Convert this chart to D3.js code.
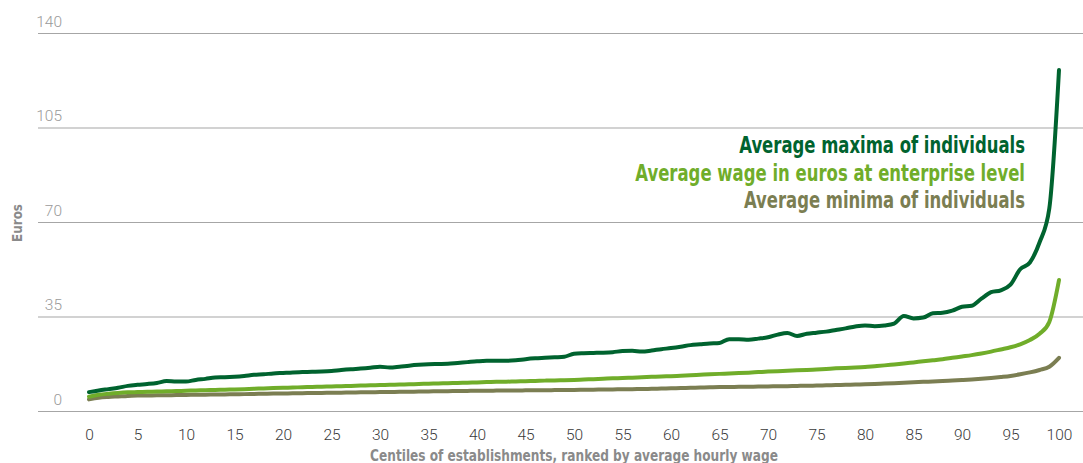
<!DOCTYPE html>
<html>
<head>
<meta charset="utf-8">
<script src="https://cdn.jsdelivr.net/npm/d3@7"></script>
<style>
  html, body { margin: 0; padding: 0; background: #fff; }
  svg { display: block; }
</style>
</head>
<body>
<svg id="chart" width="1083" height="463"></svg>
<script>
// ---------- data ----------
const centiles = d3.range(0, 101); // 0..100 centiles (index positions)
const xTicks = [0,5,10,15,20,25,30,35,40,45,50,55,60,65,70,75,80,85,90,95,100];
const yTicks = [0,35,70,105,140];

const maxima = [7.0,7.6,8.1,8.6,9.3,9.7,10.0,10.4,11.1,10.9,10.9,11.5,11.9,12.4,12.5,12.7,13.0,13.4,13.6,13.9,
  14.1,14.3,14.4,14.5,14.6,14.8,15.2,15.5,15.7,16.0,16.4,16.1,16.4,16.8,17.1,17.3,17.4,17.5,17.8,18.1,
  18.4,18.6,18.6,18.6,18.8,19.2,19.5,19.7,19.9,20.1,21.2,21.4,21.5,21.6,21.8,22.2,22.3,22.0,22.4,22.9,
  23.3,23.8,24.4,24.7,25.0,25.2,26.6,26.6,26.4,26.8,27.3,28.3,28.9,27.8,28.6,29.0,29.4,30.0,30.6,31.3,
  31.7,31.4,31.7,32.4,35.2,34.3,34.6,36.2,36.4,37.2,38.6,39.0,41.6,44.0,44.7,46.8,52.5,55.0,62.5,75.0,126.3];

const wage = [5.3,6.0,6.4,6.7,6.9,7.0,7.1,7.2,7.3,7.4,7.5,7.6,7.7,7.8,7.9,8.0,8.1,8.25,8.35,8.5,
  8.6,8.7,8.8,8.9,9.0,9.1,9.2,9.3,9.4,9.5,9.6,9.7,9.8,9.9,10.0,10.1,10.2,10.3,10.4,10.5,
  10.6,10.7,10.8,10.85,10.95,11.05,11.15,11.25,11.3,11.4,11.5,11.65,11.8,11.95,12.1,12.2,12.35,12.5,12.65,12.8,
  12.9,13.05,13.2,13.4,13.6,13.75,13.9,14.05,14.2,14.4,14.6,14.75,14.9,15.05,15.2,15.4,15.6,15.8,15.95,16.1,
  16.3,16.6,16.9,17.25,17.6,18.0,18.4,18.8,19.2,19.7,20.2,20.7,21.3,22.0,22.8,23.6,24.7,26.3,28.6,33.0,48.5];

const minima = [4.3,4.9,5.2,5.4,5.6,5.7,5.75,5.8,5.85,5.9,5.95,6.0,6.05,6.1,6.15,6.2,6.25,6.3,6.4,6.45,
  6.5,6.55,6.6,6.65,6.7,6.75,6.8,6.85,6.9,6.95,7.0,7.05,7.1,7.15,7.2,7.25,7.3,7.35,7.4,7.45,
  7.5,7.5,7.55,7.6,7.6,7.65,7.7,7.7,7.75,7.8,7.8,7.85,7.9,7.95,8.0,8.05,8.1,8.15,8.2,8.3,
  8.4,8.5,8.6,8.7,8.8,8.85,8.9,8.95,9.0,9.05,9.1,9.15,9.2,9.3,9.35,9.4,9.5,9.6,9.7,9.8,
  9.9,10.0,10.15,10.3,10.5,10.65,10.8,10.95,11.1,11.3,11.5,11.7,11.95,12.25,12.6,13.0,13.6,14.3,15.2,16.4,19.7];

const seriesNames = ["Average maxima of individuals","Average wage in euros at enterprise level","Average minima of individuals"];
const seriesColors = ["#00632f","#70ad2a","#7b7e52"];
const yTitle = "Euros";
const xTitle = "Centiles of establishments, ranked by average hourly wage";

// ---------- layout ----------
const svg = d3.select("#chart");
const W = 1083, H = 463;
const gridLeft = 38;
const x = d3.scaleLinear().domain([0, 100]).range([89, 1059]);
const y = d3.scaleLinear().domain([0, 140]).range([411, 33]);

// gridlines + y labels
const yAxis = d3.axisLeft(y).tickValues(yTicks).tickSize(-(W - gridLeft)).tickFormat(d3.format("d"));
const gy = svg.append("g").attr("transform", `translate(${gridLeft},0)`).call(yAxis);
gy.select(".domain").remove();
gy.selectAll(".tick line").attr("stroke", "#a6a6a6").attr("stroke-width", 1.2);
gy.selectAll(".tick text")
  .attr("x", 24).attr("dy", 0).attr("y", -7)
  .attr("text-anchor", "end")
  .attr("fill", "#9a9a9a")
  .style("font-family", "Roboto, 'Open Sans', sans-serif")
  .style("font-weight", 300)
  .style("font-size", "15.5px");

// x axis labels
const xAxis = d3.axisBottom(x).tickValues(xTicks).tickSize(0).tickFormat(d3.format("d"));
const gx = svg.append("g").attr("transform", `translate(0,${y(0)})`).call(xAxis);
gx.select(".domain").remove();
gx.selectAll(".tick text")
  .attr("y", 29).attr("dy", 0)
  .attr("fill", "#3a3a3a")
  .style("font-family", "Roboto, 'Open Sans', sans-serif")
  .style("font-weight", 300)
  .style("font-size", "15.5px");

// lines
const line = d3.line().x((d, i) => x(centiles[i])).y(d => y(d)).curve(d3.curveMonotoneX);
const seriesData = [maxima, wage, minima];
[2, 1, 0].forEach(k => {
  svg.append("path")
    .datum(seriesData[k])
    .attr("d", line)
    .attr("fill", "none")
    .attr("stroke", seriesColors[k])
    .attr("stroke-width", 4)
    .attr("stroke-linejoin", "round")
    .attr("stroke-linecap", "round");
});

// condensed text helper: scale horizontally to a target width
const condensed = "'Liberation Sans Narrow', 'DejaVu Sans Condensed', 'Arial Narrow', sans-serif";
function squeezed(parent, str, tx, ty, anchor, targetW, size, color, rotate) {
  const g = parent.append("g");
  const t = g.append("text")
    .attr("text-anchor", anchor)
    .attr("fill", color)
    .style("font-family", condensed)
    .style("font-weight", "bold")
    .style("font-size", size + "px")
    .text(str);
  const nat = t.node().getComputedTextLength();
  const sx = nat > 0 ? targetW / nat : 1;
  g.attr("transform", `translate(${tx},${ty})${rotate ? " rotate(-90)" : ""} scale(${sx},1)`);
  return g;
}

// legend texts
const legBase = [153, 181, 208];
const legWidth = [286, 390, 281];
seriesNames.forEach((name, i) => {
  squeezed(svg, name, 1025, legBase[i], "end", legWidth[i], 23, seriesColors[i], false);
});

// axis titles
squeezed(svg, yTitle, 22, 223, "middle", 38, 14, "#8a8a8a", true);
squeezed(svg, xTitle, 574, 461, "middle", 408, 15, "#8a8a8a", false);
</script>
</body>
</html>
